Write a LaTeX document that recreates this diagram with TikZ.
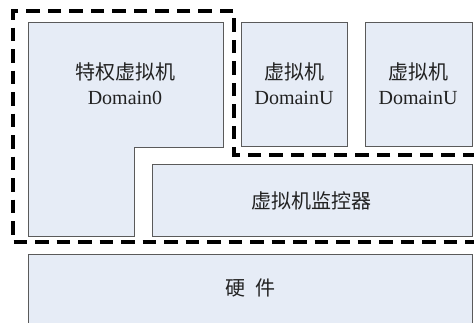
\documentclass[tikz,border=0pt]{standalone}
\usepackage{fontspec}
\setmainfont{Liberation Serif}
\newfontfamily\cjk{Noto Sans CJK SC}
\definecolor{boxfill}{HTML}{E6ECF6}
\definecolor{boxline}{HTML}{5A5A5A}
\definecolor{txt}{HTML}{222222}
\begin{document}
\begin{tikzpicture}[x=1pt,y=-1pt,
  blk/.style={fill=boxfill,draw=boxline,line width=0.9pt},
  lbl/.style={text=txt,align=center,inner sep=0pt,font=\fontsize{20}{25}\selectfont},
  dom/.style={draw=black,line width=3.3pt,dash pattern=on 13.5pt off 8pt}]
\useasboundingbox (0,0) rectangle (474,322);
\clip (0,0) rectangle (474,322);
\fill[white] (0,0) rectangle (474,322);
% boxes
\draw[blk] (28,22) -- (223,22) -- (223,147) -- (134,147) -- (134,236) -- (28,236) -- cycle;
\draw[blk] (241,22) rectangle (347,146);
\draw[blk] (365,22) rectangle (472,146);
\draw[blk] (152,164) rectangle (472,236);
\draw[blk] (28,254) rectangle (472,340);
% dashed domain
\draw[dom] (476,155) -- (234,155) -- (234,11) -- (13,11) -- (13,242) -- (476,242);
% labels
\node[lbl] (d0) at (125,84) {{\cjk 特权虚拟机}\\Domain0};
\node[lbl] (du1) at (294,84) {{\cjk 虚拟机}\\DomainU};
\node[lbl] (du2) at (418,84) {{\cjk 虚拟机}\\DomainU};
\node[lbl] (vmm) at (311,201) {\cjk 虚拟机监控器};
\node[lbl] (hw) at (250,288) {\cjk 硬\hspace{0.5em}件};
\end{tikzpicture}
\end{document}
